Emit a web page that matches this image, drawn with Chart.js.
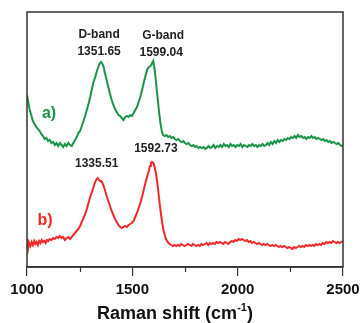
<!DOCTYPE html>
<html>
<head>
<meta charset="utf-8">
<script src="https://cdn.jsdelivr.net/npm/chart.js@4/dist/chart.umd.min.js"></script>
<style>
  html, body { margin: 0; padding: 0; background: #fff; }
  #wrap { width: 360px; height: 323px; }
</style>
</head>
<body>
<div id="wrap"><canvas id="myChart" width="360" height="323"></canvas></div>
<script>
// sample a) - raman shift / intensity (offset, arb. units)
const shiftA = [1000,1005,1012,1020,1028,1036,1044,1052,1060,1068,1076,1084,1092,1100,1108,1116,1124,1132,1140,1148,1156,1164,1172,1180,1188,1196,1204,1212,1220,1228,1236,1244,1252,1260,1268,1276,1284,1292,1300,1308,1316,1324,1332,1340,1346,1351.65,1358,1364,1370,1378,1386,1394,1402,1410,1418,1426,1434,1442,1450,1458,1466,1474,1482,1490,1498,1506,1514,1522,1530,1538,1546,1554,1562,1570,1578,1586,1592,1599.04,1604,1610,1616,1622,1628,1634,1640,1646,1654,1662,1670,1678,1686,1694,1702,1710,1718,1726,1734,1742,1750,1758,1766,1774,1782,1790,1798,1806,1814,1822,1830,1838,1846,1854,1862,1870,1878,1886,1894,1902,1910,1918,1926,1934,1942,1950,1958,1966,1974,1982,1990,1998,2006,2014,2022,2030,2038,2046,2054,2062,2070,2078,2086,2094,2102,2110,2118,2126,2134,2142,2150,2158,2166,2174,2182,2190,2198,2206,2214,2222,2230,2238,2246,2254,2262,2270,2278,2286,2294,2302,2310,2318,2326,2334,2342,2350,2358,2366,2374,2382,2390,2398,2406,2414,2422,2430,2438,2446,2454,2462,2470,2478,2486,2494,2500];
const intensityA = [172,166,158,152,146,143,140,138,136,133,131,128,129,126,127,124,125,122,124,121,124,122,120,123,121,124,122,121,124,127,130,134,136,141,146,151,157,163,170,178,185,190,196,201,204,205,203,200,194,187,180,173,167,162,158,155,152,151,149,147,150,151,150,152,151,154,157,160,165,170,177,184,191,197,200,201,203,206,200,190,177,165,153,143,136,132,131,132,130,131,129,130,128,127,128,126,125,126,124,123,124,122,121,122,120,121,119,120,119,120,118,119,121,119,120,122,119,121,120,122,120,123,121,122,120,123,121,122,120,122,121,123,120,122,121,120,122,121,123,121,122,120,122,121,123,121,122,124,122,125,123,126,124,127,125,127,126,128,127,129,128,130,129,131,129,132,130,131,129,130,128,130,129,131,129,130,128,129,128,127,128,126,127,125,126,124,125,124,123,124,122,121,122];

// sample b)
const shiftB = [1000,1003,1006,1010,1016,1022,1028,1034,1040,1046,1052,1058,1064,1070,1076,1082,1088,1094,1100,1108,1116,1124,1132,1140,1148,1156,1164,1172,1180,1188,1196,1204,1212,1220,1228,1236,1244,1252,1260,1268,1276,1284,1292,1300,1308,1316,1322,1328,1335.51,1340,1346,1352,1358,1364,1370,1378,1386,1394,1402,1410,1418,1426,1434,1442,1450,1458,1466,1474,1482,1490,1498,1506,1514,1522,1530,1538,1546,1554,1562,1570,1578,1584,1588,1592.73,1600,1606,1612,1618,1624,1630,1636,1642,1648,1654,1660,1668,1676,1684,1692,1700,1708,1716,1724,1732,1740,1748,1756,1764,1772,1780,1788,1796,1804,1812,1820,1828,1836,1844,1852,1860,1868,1876,1884,1892,1900,1908,1916,1924,1932,1940,1948,1956,1964,1972,1980,1988,1996,2004,2012,2020,2028,2036,2044,2052,2060,2068,2076,2084,2092,2100,2108,2116,2124,2132,2140,2148,2156,2164,2172,2180,2188,2196,2204,2212,2220,2228,2236,2244,2252,2260,2268,2276,2284,2292,2300,2308,2316,2324,2332,2340,2348,2356,2364,2372,2380,2388,2396,2404,2412,2420,2428,2436,2444,2452,2460,2468,2476,2484,2492,2500];
const intensityB = [20,28,19,24,21,25,22,26,23,25,22,26,24,27,25,26,24,27,26,28,27,29,28,30,29,31,29,30,27,29,30,28,30,32,34,36,38,41,45,49,53,58,64,70,75,80,84,87,89,88,86,86,84,81,77,71,66,61,56,52,48,45,42,40,39,40,41,40,42,43,44,46,50,54,59,64,70,77,84,90,96,101,104,105,104,100,94,85,74,63,53,44,37,32,28,25,23,22,21,22,21,22,21,23,22,21,22,23,22,21,23,22,21,22,21,23,22,23,24,22,24,23,24,23,25,24,25,24,23,25,24,23,25,26,25,27,26,28,27,28,27,26,27,25,26,24,25,24,23,24,23,22,23,22,23,22,21,22,21,22,21,20,21,20,21,20,19,20,19,18,20,19,20,21,20,21,20,22,21,22,21,22,21,23,22,23,22,24,23,25,24,25,24,26,25,24,25,24,25,26];

const xTicks = [1000, 1500, 2000, 2500];
const xMinorTicks = [1250, 1750, 2250];
const peakLabelsA = ['1351.65', '1599.04'];
const peakLabelsB = ['1335.51', '1592.73'];

const GREEN = '#1a9448';
const RED = '#f02828';
const DARK = '#222';
const FONT = '"Liberation Sans", Arial, sans-serif';

function toPoints(xs, ys) {
  return xs.map((x, i) => ({x: x, y: ys[i]}));
}

// frame, minor ticks, tick labels, peak labels and axis title
const decorations = {
  id: 'decorations',
  afterDraw(chart) {
    const ctx = chart.ctx;
    const area = chart.chartArea;
    const xs = chart.scales.x;
    const ys = chart.scales.y;
    ctx.save();

    ctx.strokeStyle = '#333';
    ctx.lineWidth = 1.5;
    ctx.strokeRect(area.left, area.top, area.right - area.left, area.bottom - area.top);

    ctx.lineWidth = 1.2;
    xMinorTicks.forEach(v => {
      const px = Math.round(xs.getPixelForValue(v)) + 0.5;
      ctx.beginPath();
      ctx.moveTo(px, area.bottom);
      ctx.lineTo(px, area.bottom + 5);
      ctx.stroke();
    });

    ctx.textAlign = 'center';
    ctx.textBaseline = 'middle';
    ctx.fillStyle = '#111';
    ctx.font = 'bold 15px ' + FONT;
    xTicks.forEach(v => {
      ctx.fillText(String(v), xs.getPixelForValue(v), area.bottom + 23);
    });

    ctx.fillStyle = DARK;
    ctx.font = 'bold 12px ' + FONT;
    const pk = (x, y) => ({px: xs.getPixelForValue(x), py: ys.getPixelForValue(y)});

    const dA = pk(1351.65, 205);
    ctx.fillText('D-band', dA.px - 2, dA.py - 27);
    ctx.fillText(peakLabelsA[0], dA.px - 2, dA.py - 10);
    const gA = pk(1599.04, 206);
    ctx.fillText('G-band', gA.px + 10, gA.py - 25);
    ctx.fillText(peakLabelsA[1], gA.px + 8, gA.py - 8);
    const dB = pk(1335.51, 89);
    ctx.fillText(peakLabelsB[0], dB.px - 1, dB.py - 14);
    const gB = pk(1592.73, 105);
    ctx.fillText(peakLabelsB[1], gB.px + 4, gB.py - 13);

    ctx.font = 'bold 16px ' + FONT;
    ctx.fillStyle = GREEN;
    ctx.fillText('a)', 49, 114);
    ctx.fillStyle = RED;
    ctx.fillText('b)', 45, 221);

    // axis title with superscript
    ctx.fillStyle = '#111';
    ctx.textAlign = 'left';
    ctx.textBaseline = 'alphabetic';
    const main = 'Raman shift (cm';
    const sup = '-1';
    const close = ')';
    const big = 'bold 18px ' + FONT;
    const small = 'bold 11px ' + FONT;
    ctx.font = big;
    const wMain = ctx.measureText(main).width;
    const wClose = ctx.measureText(close).width;
    ctx.font = small;
    const wSup = ctx.measureText(sup).width;
    const total = wMain + wSup + wClose;
    let tx = 175 - total / 2;
    const base = 319;
    ctx.font = big;
    ctx.fillText(main, tx, base);
    tx += wMain;
    ctx.font = small;
    ctx.fillText(sup, tx, base - 8);
    tx += wSup;
    ctx.font = big;
    ctx.fillText(close, tx, base);

    ctx.restore();
  }
};

const ctx = document.getElementById('myChart').getContext('2d');
const myChart = new Chart(ctx, {
  type: 'line',
  data: {
    datasets: [
      {
        label: 'a)',
        data: toPoints(shiftA, intensityA),
        borderColor: GREEN,
        borderWidth: 2,
        pointRadius: 0,
        tension: 0,
        fill: false
      },
      {
        label: 'b)',
        data: toPoints(shiftB, intensityB),
        borderColor: RED,
        borderWidth: 2,
        pointRadius: 0,
        tension: 0,
        fill: false
      }
    ]
  },
  options: {
    responsive: false,
    animation: false,
    devicePixelRatio: 1,
    layout: {
      padding: {left: 27, right: 17, top: 12, bottom: 47}
    },
    plugins: {
      legend: {display: false},
      tooltip: {enabled: false}
    },
    scales: {
      x: {
        type: 'linear',
        min: 1000,
        max: 2500,
        afterBuildTicks: axis => {
          axis.ticks = xTicks.map(v => ({value: v}));
        },
        ticks: {display: false},
        grid: {
          drawOnChartArea: false,
          drawTicks: true,
          tickLength: 9,
          color: '#333',
          lineWidth: 1.2
        },
        border: {display: true, color: '#333', width: 1.5}
      },
      y: {
        display: false,
        min: 0,
        max: 255
      }
    }
  },
  plugins: [decorations]
});
</script>
</body>
</html>
